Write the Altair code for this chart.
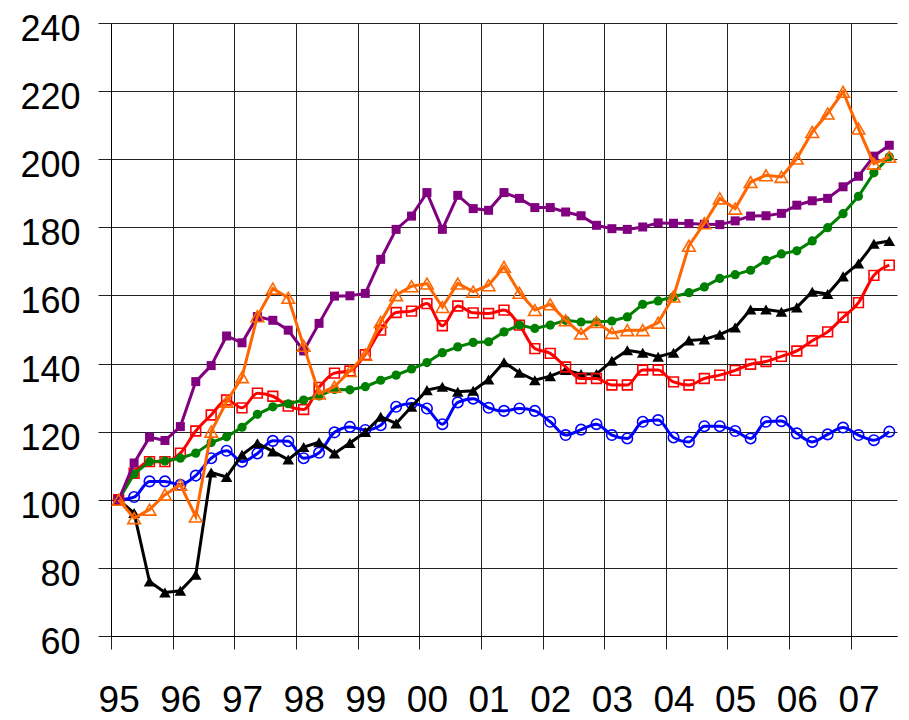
import json
import altair as alt
import pandas as pd

# Tick labels (years) and quarterly series, 1995Q1 .. 2007Q3
x_labels = ["95", "96", "97", "98", "99", "00", "01", "02", "03", "04", "05", "06", "07"]
y_ticks = [60, 80, 100, 120, 140, 160, 180, 200, 220, 240]

purple = [100, 110.8, 118.4, 117.4, 121.5, 134.7, 139.4, 148.1, 146.1, 153.8,
          152.7, 149.8, 143.7, 151.8, 159.8, 159.9, 160.6, 170.6, 179.4, 183.3,
          190.2, 179.4, 189.4, 185.5, 185.0, 190.2, 188.5, 185.8, 185.8, 184.5,
          183.4, 180.6, 179.6, 179.4, 180.1, 181.3, 181.2, 181.1, 180.9, 180.8,
          181.9, 183.3, 183.4, 184.1, 186.5, 187.8, 188.5, 191.9, 195.0, 200.9, 204.1]

orange = [100, 94.6, 97.1, 101.5, 104.4, 95.1, 120.0, 128.8, 136.0, 153.9,
          162.0, 159.3, 145.2, 131.2, 133.2, 137.8, 142.6, 152.2, 160.1, 162.7,
          163.5, 156.6, 163.5, 161.1, 163.0, 168.4, 160.8, 155.7, 157.4, 152.7,
          148.8, 152.2, 149.0, 149.8, 149.8, 152.0, 159.7, 174.6, 181.2, 188.5,
          185.5, 193.3, 195.3, 194.8, 200.2, 208.0, 213.4, 219.8, 209.0, 198.7, 200.7]

red = [100, 107.8, 111.2, 111.2, 113.7, 120.2, 124.9, 129.3, 127.0, 131.3,
       130.4, 127.5, 126.5, 133.0, 137.2, 137.8, 142.6, 149.8, 155.0, 155.4,
       157.6, 151.1, 156.9, 154.9, 154.7, 155.7, 151.3, 144.4, 143.0, 139.0,
       135.6, 135.6, 133.7, 133.7, 138.1, 138.1, 134.6, 133.7, 135.6, 136.6,
       138.0, 139.8, 140.6, 142.1, 143.7, 146.7, 149.3, 153.6, 157.9, 165.9, 168.9]

green = [100, 107.6, 111.2, 111.4, 112.2, 113.7, 116.8, 118.5, 121.3, 125.1,
         127.3, 128.2, 129.3, 130.5, 132.4, 132.3, 133.2, 135.1, 136.6, 138.4,
         140.3, 143.2, 144.9, 146.2, 146.4, 149.3, 151.3, 150.3, 151.3, 152.7,
         152.2, 152.2, 152.5, 153.7, 157.4, 158.4, 159.6, 160.8, 162.5, 165.0,
         166.1, 167.4, 170.3, 172.2, 173.1, 176.0, 179.9, 184.0, 189.1, 196.0, 200.7]

black = [100, 96.1, 76.0, 72.8, 73.3, 78.0, 108.0, 106.7, 113.2, 116.6,
         114.2, 111.8, 115.5, 116.9, 113.6, 116.7, 119.9, 124.4, 122.4, 127.3,
         132.2, 133.2, 131.7, 132.0, 135.3, 140.4, 137.3, 135.1, 136.3, 138.1,
         136.9, 136.9, 140.8, 143.9, 143.2, 142.0, 143.2, 146.8, 147.1, 148.5,
         150.6, 155.9, 155.9, 155.2, 156.5, 161.1, 160.4, 165.6, 169.4, 175.2, 176.0]

blue = [100, 100.8, 105.4, 105.4, 104.4, 107.1, 112.2, 114.4, 111.2, 113.6,
        117.3, 117.2, 112.2, 113.8, 119.8, 121.4, 120.5, 121.9, 127.3, 128.3,
        126.8, 122.2, 128.6, 129.7, 127.0, 126.1, 126.8, 126.1, 122.9, 119.0,
        120.6, 122.2, 119.0, 118.0, 122.9, 123.4, 118.3, 117.0, 121.6, 121.6,
        120.2, 118.0, 122.9, 123.1, 119.5, 117.0, 119.2, 121.2, 119.0, 117.5, 120.0]

n = len(purple)

# Styles (drawing order bottom -> top)
styles = [
    ("blue", blue, "#0000FF", "circle", False, 110, "monotone"),
    ("black", black, "#000000", "triangle-up", True, 135, "linear"),
    ("red", red, "#FF0000", "square", False, 95, "monotone"),
    ("green", green, "#008000", "circle", True, 85, "linear"),
    ("purple", purple, "#800080", "square", True, 81, "linear"),
    ("orange", orange, "#FF6600", "triangle-up", False, 160, "linear"),
]

label_expr = json.dumps(x_labels) + "[round(datum.value / 4)]"

x_enc = alt.X(
    "q:Q",
    scale=alt.Scale(domain=[0, n], nice=False, zero=False),
    axis=alt.Axis(
        values=list(range(0, n, 4)),
        labelExpr=label_expr,
        title=None,
        grid=True,
        ticks=True,
        tickSize=13,
        labelPadding=33,
        labelOffset=7.7,
        labelFlush=False,
        labelOverlap=False,
        domain=True,
    ),
)
y_enc = alt.Y(
    "v:Q",
    scale=alt.Scale(domain=[60, 240], nice=False, zero=False),
    axis=alt.Axis(
        values=y_ticks,
        title=None,
        grid=True,
        ticks=True,
        tickSize=13,
        labelPadding=18,
        labelOffset=6.5,
        labelFontSize=36,
        domain=True,
    ),
)

layers = []
for name, vals, color, shape, filled, size, interp in styles:
    df = pd.DataFrame({"q": [i + 0.5 for i in range(len(vals))], "v": vals, "s": name})
    base = alt.Chart(df)
    line = base.mark_line(color=color, strokeWidth=3, interpolate=interp).encode(x=x_enc, y=y_enc)
    if filled:
        pts = base.mark_point(shape=shape, filled=True, size=size, color=color, opacity=1,
                              strokeWidth=0.5)
    else:
        pts = base.mark_point(shape=shape, filled=False, size=size, color=color, opacity=1,
                              strokeWidth=1.6)
    pts = pts.encode(x=x_enc, y=y_enc)
    layers += [line, pts]

chart = (
    alt.layer(*layers)
    .properties(
        width=786,
        height=613,
        autosize=alt.AutoSizeParams(type="none"),
        padding={"left": 103, "top": 15, "right": 2, "bottom": 84},
        background="white",
    )
    .configure_axis(
        labelFont="Liberation Sans",
        labelFontSize=37,
        labelColor="#000000",
        gridColor="#222222",
        gridWidth=1,
        gridOpacity=1,
        tickColor="#222222",
        tickWidth=1,
        domainColor="#000000",
        domainWidth=1,
    )
    .configure_view(stroke=None)
)

chart.save("out.html", embed_options={"renderer": "svg", "actions": False})
